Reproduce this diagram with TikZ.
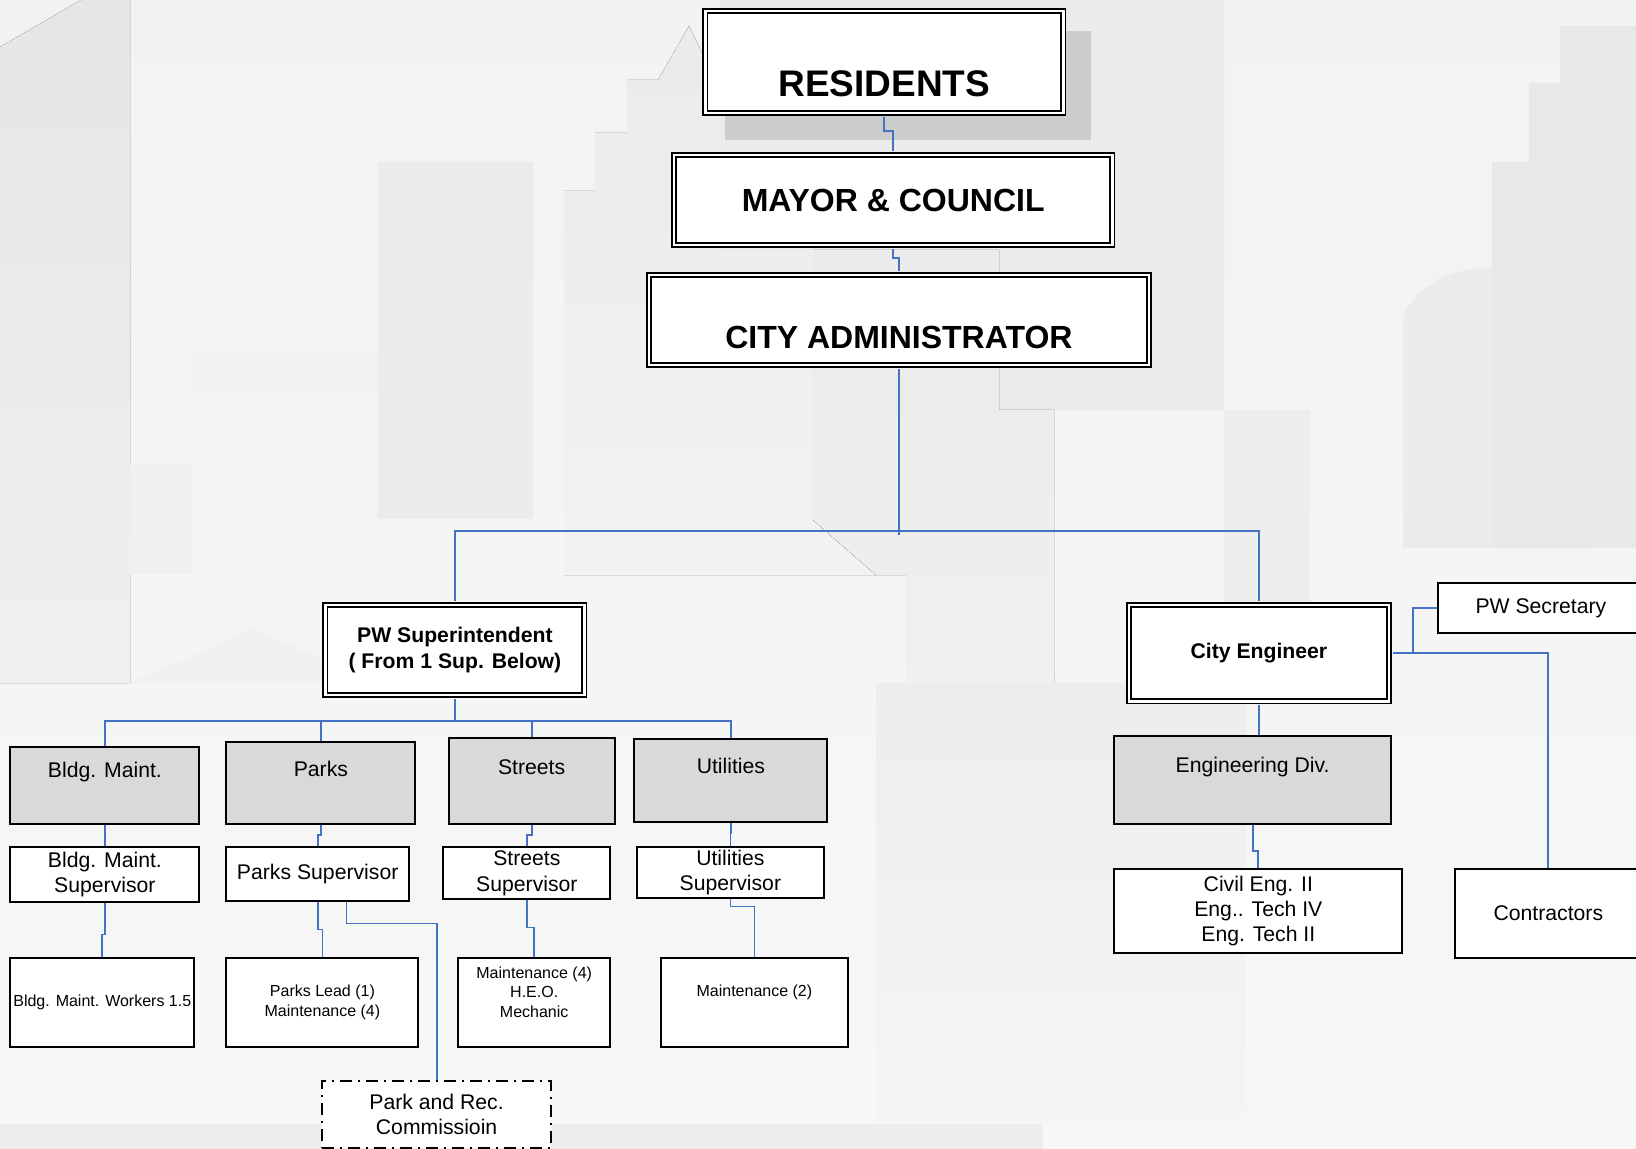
\documentclass[tikz,border=0pt]{standalone}
\usepackage{fontspec}
\setmainfont{Liberation Sans}
\usetikzlibrary{calc}
\definecolor{linkblue}{HTML}{4472C4}
\definecolor{unitgray}{HTML}{D9D9D9}
\definecolor{shadowgray}{HTML}{CCCCCC}
\tikzset{
  sz/.style 2 args={minimum width=#1*0.5pt, minimum height=#2*0.5pt},
  link/.style={draw=linkblue, line width=0.9pt},
  office/.style={draw, fill=white, double, double distance=1.2pt, line width=0.9pt, inner sep=0pt, align=center},
  unit/.style={draw, fill=unitgray, line width=1pt, inner sep=0pt},
  staff/.style={draw, fill=white, line width=1pt, inner sep=0pt, align=center, font=\fontsize{10.6}{12.6}\selectfont},
  crew/.style={staff, font=\fontsize{8}{9.9}\selectfont},
  lbl/.style={font=\fontsize{10.6}{12.6}\selectfont, align=center},
  board/.style={staff, draw=black, dash pattern=on 6pt off 3pt on 1pt off 3pt}
}

\begin{document}
\begin{tikzpicture}[x=0.5pt, y=-0.5pt]
  \clip (0,0) rectangle (1636,1149);
  % skyline behind the chart
  \fill[top color=black!5, bottom color=black!3] (0,0) rectangle (1636,1149);
  \fill[top color=black!10, bottom color=black!6] (0,47) -- (81,0) -- (130,0) -- (130,683) -- (0,683) -- cycle;
  \fill[black!6] (130,464) rectangle (192,574);
  \fill[top color=black!5, bottom color=black!4] (192,355) rectangle (438,683);
  \fill[black!8] (378,162) rectangle (533,519);
  \fill[top color=black!8, bottom color=black!5] (564,575) -- (564,191) -- (595,191) -- (595,133) -- (627,133)
    -- (627,80) -- (658,80) -- (689,26) -- (720,90) -- (720,250) -- (813,250) -- (813,520) -- (876,575) -- cycle;
  \fill[black!8] (720,0) -- (1224,0) -- (1224,410) -- (999,410) -- (999,250) -- (720,250) -- cycle;
  \fill[top color=black!8, bottom color=black!6] (813,520) -- (813,250) -- (999,250) -- (999,410) -- (1054,410)
    -- (1054,683) -- (906,683) -- (906,575) -- (876,575) -- cycle;
  \fill[black!7] (1224,410) rectangle (1310,683);
  \fill[black!8] (1403,548) -- (1403,317) .. controls (1430,250) and (1564,250) .. (1591,317) -- (1591,548) -- cycle;
  \fill[black!9] (1492,548) -- (1492,162) -- (1529,162) -- (1529,83) -- (1560,83) -- (1560,26) -- (1636,26)
    -- (1636,548) -- cycle;
  \fill[black!6] (130,683) -- (253,629) -- (378,683) -- cycle;
  \fill[top color=black!7, bottom color=black!4] (876,683) rectangle (1246,1124);
  \fill[black!7] (0,1124) rectangle (1043,1149);

  % top of the chart
  \fill[shadowgray] (725,31) rectangle (1091,140);
  \node[office, sz={358}{101.5},
    label={[font=\fontsize{18.5}{22}\selectfont\bfseries, yshift=-10.75pt]center:RESIDENTS}] (res) at (884.3,62) {};
  \node[office, sz={438.5}{90}, font=\fontsize{16}{19}\selectfont\bfseries] (mayor) at (893.2,200.3) {MAYOR \& COUNCIL};
  \node[office, sz={500}{90},
    label={[font=\fontsize{16}{19}\selectfont\bfseries, yshift=-8.4pt]center:CITY ADMINISTRATOR}] (ca) at (898.9,320.3) {};

  \node[office, sz={259}{90}, font=\fontsize{10.6}{13}\selectfont\bfseries] (pws) at (454.9,650)
    {PW Superintendent\\( From 1 Sup. Below)};
  \node[office, sz={260}{96.3}, font=\fontsize{10.6}{13}\selectfont\bfseries] (ce) at (1258.9,653.2) {City Engineer};

  % public works divisions
  \node[unit, sz={188.9}{77.2}, label={[lbl, yshift=6.8pt]center:Bldg. Maint.}] (bm) at (104.9,785.7) {};
  \node[unit, sz={188.9}{82.4}, label={[lbl, yshift=7pt]center:Parks}] (pk) at (320.9,783.1) {};
  \node[unit, sz={165.9}{86.6}, label={[lbl, yshift=7pt]center:Streets}] (st) at (531.6,781) {};
  \node[unit, sz={193}{83.5}, label={[lbl, yshift=7.3pt]center:Utilities}] (ut) at (730.9,780.5) {};

  \node[staff, sz={188.9}{54.3}] (bms) at (104.9,874.4) {Bldg. Maint.\\Supervisor};
  \node[staff, sz={182.6}{53.3}] (pks) at (317.7,873.9) {Parks Supervisor};
  \node[staff, sz={167}{52.2}] (sts) at (526.9,873.3) {Streets\\Supervisor};
  \node[staff, sz={187.8}{51.2}] (uts) at (730.4,872.8) {Utilities\\Supervisor};

  \node[crew, sz={183.7}{88.7}] (bmw) at (102.3,1002.2) {Bldg. Maint. Workers 1.5};
  \node[crew, sz={192}{88.7}] (pkl) at (322.4,1002.2) {Parks Lead (1)\\Maintenance (4)};
  \node[crew, sz={152.3}{88.7},
    label={[font=\fontsize{8}{9.9}\selectfont, align=center, yshift=5pt]center:Maintenance (4)\\H.E.O.\\Mechanic}] (heo) at (534.2,1002.2) {};
  \node[crew, sz={187.8}{88.7},
    label={[font=\fontsize{8}{9.9}\selectfont, yshift=5pt]center:Maintenance (2)}] (mt2) at (754.4,1002.2) {};
  \node[board, sz={228.5}{67}] (prc) at (436.6,1114.5) {Park and Rec.\\Commissioin};

  % engineering side
  \node[staff, sz={206}{50}] (sec) at (1540.9,608.3) {PW Secretary};
  \node[staff, sz={187.5}{88.7}] (con) at (1548.3,913.5) {Contractors};
  \node[unit, sz={276.5}{88.7}, label={[lbl, yshift=6.5pt]center:Engineering Div.}] (eng) at (1252.6,780) {};
  \node[staff, sz={288}{83.4}] (civ) at (1258.3,910.9) {Civil Eng. II\\Eng.. Tech IV\\Eng. Tech II};

  % reporting lines
  \draw[link, shorten <=1.5pt, shorten >=1.5pt] (res.south) -- ++(0,17) -| (mayor.north);
  \draw[link, shorten <=1.5pt, shorten >=1.5pt] (mayor.south) -- ++(0,12) -| (ca.north);
  \coordinate (hub) at (898.9,535);
  \draw[link, shorten <=1.5pt] (ca.south) -- (hub);
  \draw[link, shorten <=1.5pt, shorten >=1.5pt] (pws.north) -- ++(0,-73) -| (ce.north);

  \draw[link, shorten <=1.5pt] (pws.south) -- ++(0,25) coordinate (bus);
  \foreach \u in {bm,pk,st,ut}
    \draw[link] (bus) -| (\u.north);

  \draw[link] (bm.south) -- (bms.north);
  \draw[link] (pk.south) -- ++(0,10) -| (pks.north);
  \draw[link] (st.south) -- ++(0,10) -| (sts.north);
  \draw[link] (ut.south) -- ++(0,10) -| (uts.north);

  \draw[link] (bms.south) -- ++(0,32) -| (bmw.north);
  \draw[link] (pks.south) -- ++(0,28) -| (pkl.north);
  \draw[link] ([xshift=14.4pt]pks.south) -- ++(0,22) -| (prc.north);
  \draw[link] (sts.south) -- ++(0,27) -| (heo.north);
  \draw[link] (uts.south) -- ++(0,7) -| (mt2.north);

  \draw[link, shorten <=1.5pt] (ce.east) -- ++(23,0) |- (sec.west);
  \draw[link, shorten <=1.5pt] (ce.east) -| (con.north);
  \draw[link, shorten <=1.5pt] (ce.south) -- (ce.south |- eng.north);
  \draw[link] (eng.south) -- ++(0,26) -| (civ.north);
\end{tikzpicture}
\end{document}
